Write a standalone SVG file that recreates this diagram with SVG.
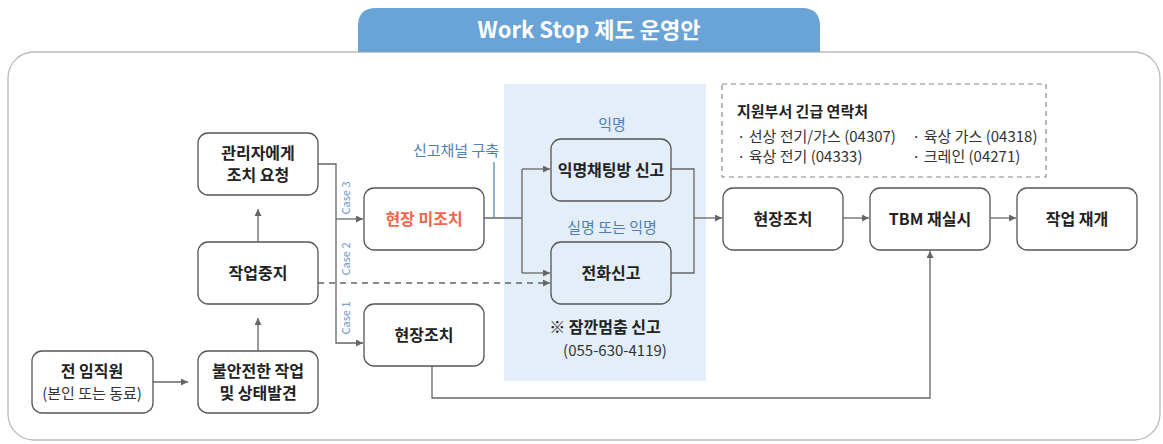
<svg xmlns="http://www.w3.org/2000/svg" width="1163" height="444" viewBox="0 0 1163 444">
<defs>
<marker id="ah" viewBox="0 0 10 10" refX="10" refY="5" markerWidth="7" markerHeight="7" orient="auto" markerUnits="userSpaceOnUse">
<path d="M0,0 L10,5 L0,10 z" fill="#666"/>
</marker>
</defs>
<style>
.node{fill:#fff;stroke:#555;stroke-width:1.3}
.t{font-family:"Noto Sans CJK KR","Noto Sans",sans-serif;font-size:16px;font-weight:bold;fill:#222;text-anchor:middle}
.r{font-family:"Noto Sans CJK KR","Noto Sans",sans-serif;font-size:15px;fill:#333}
.b{font-family:"Noto Sans CJK KR","Noto Sans",sans-serif;font-size:15px;fill:#4f7fb5;text-anchor:middle}
.case{font-family:"Noto Sans CJK KR","Noto Sans",sans-serif;font-size:11px;fill:#6a94c4;text-anchor:middle}
.c{fill:none;stroke:#666;stroke-width:1.3}
</style>
<rect x="8" y="52" width="1152" height="388" rx="26" fill="#fff" stroke="#bbb" stroke-width="1.3"/>
<path d="M358,52 V26 Q358,8 376,8 H802 Q820,8 820,26 V52 Z" fill="#6aa3d6"/>
<text x="589" y="38" font-family="'Noto Sans CJK KR','Noto Sans',sans-serif" font-size="22" font-weight="bold" fill="#fff" text-anchor="middle">Work Stop 제도 운영안</text>
<rect x="504" y="84" width="202" height="297" fill="#e3eef8"/>
<rect x="722" y="84" width="324" height="93" fill="none" stroke="#888" stroke-width="1.2" stroke-dasharray="5,4"/>
<text class="r" x="737" y="117" font-weight="bold" font-size="16" style="fill:#222">지원부서 긴급 연락처</text>
<text class="r" x="737" y="142">· 선상 전기/가스 (04307)</text>
<text class="r" x="912" y="142">· 육상 가스 (04318)</text>
<text class="r" x="737" y="162">· 육상 전기 (04333)</text>
<text class="r" x="912" y="162">· 크레인 (04271)</text>
<g id="connectors">
<path class="c" d="M153,382 H188" marker-end="url(#ah)"/>
<path class="c" d="M258,351 V318" marker-end="url(#ah)"/>
<path class="c" d="M258,242 V209" marker-end="url(#ah)"/>
<path class="c" d="M318,164 H336 V343 H363" marker-end="url(#ah)"/>
<path class="c" d="M336,219 H363" marker-end="url(#ah)"/>
<path class="c" d="M318,283 H550" stroke-dasharray="6,5" marker-end="url(#ah)"/>
<path class="c" d="M484,218 H522"/>
<path class="c" d="M494,162 V218" style="stroke:#5a86b8"/>
<path class="c" d="M522,169 V273"/>
<path class="c" d="M522,169 H550" marker-end="url(#ah)"/>
<path class="c" d="M522,273 H550" marker-end="url(#ah)"/>
<path class="c" d="M671,169 H694 V273 H671"/>
<path class="c" d="M694,218 H722" marker-end="url(#ah)"/>
<path class="c" d="M843,218 H869" marker-end="url(#ah)"/>
<path class="c" d="M990,218 H1016" marker-end="url(#ah)"/>
<path class="c" d="M432,366 V398 H930 V251" marker-end="url(#ah)"/>
</g>
<text class="case" transform="translate(350,198) rotate(-90)">Case 3</text>
<text class="case" transform="translate(350,259) rotate(-90)">Case 2</text>
<text class="case" transform="translate(350,318) rotate(-90)">Case 1</text>
<text class="b" x="456" y="156">신고채널 구축</text>
<text class="b" x="612" y="130">익명</text>
<text class="b" x="612" y="233">실명 또는 익명</text>
<text class="t" x="605" y="333">※ 잠깐멈춤 신고</text>
<text class="r" x="615" y="356" text-anchor="middle" font-size="14">(055-630-4119)</text>
<g id="n-employee">
<rect class="node" x="32" y="351" width="121" height="62" rx="10"/>
<text class="t" x="92" y="377">전 임직원</text>
<text class="r" x="92" y="399" text-anchor="middle">(본인 또는 동료)</text>
</g>
<g id="n-discover">
<rect class="node" x="198" y="351" width="120" height="62" rx="10"/>
<text class="t" x="258" y="377">불안전한 작업</text>
<text class="t" x="258" y="399">및 상태발견</text>
</g>
<g id="n-stop">
<rect class="node" x="198" y="242" width="120" height="62" rx="10"/>
<text class="t" x="258" y="279">작업중지</text>
</g>
<g id="n-request">
<rect class="node" x="198" y="133" width="120" height="62" rx="10"/>
<text class="t" x="258" y="159">관리자에게</text>
<text class="t" x="258" y="181">조치 요청</text>
</g>
<g id="n-noaction">
<rect class="node" x="364" y="188" width="120" height="62" rx="10"/>
<text class="t" x="424" y="225" style="fill:#f0664a">현장 미조치</text>
</g>
<g id="n-action1">
<rect class="node" x="364" y="304" width="120" height="62" rx="10"/>
<text class="t" x="424" y="341">현장조치</text>
</g>
<g id="n-chat">
<rect class="node" x="551" y="139" width="120" height="62" rx="10" style="fill:#e3eef8"/>
<text class="t" x="611" y="176">익명채팅방 신고</text>
</g>
<g id="n-phone">
<rect class="node" x="551" y="242" width="120" height="62" rx="10" style="fill:#e3eef8"/>
<text class="t" x="611" y="279">전화신고</text>
</g>
<g id="n-action2">
<rect class="node" x="723" y="188" width="120" height="62" rx="10"/>
<text class="t" x="783" y="225">현장조치</text>
</g>
<g id="n-tbm">
<rect class="node" x="870" y="188" width="120" height="62" rx="10"/>
<text class="t" x="930" y="225">TBM 재실시</text>
</g>
<g id="n-resume">
<rect class="node" x="1017" y="188" width="120" height="62" rx="10"/>
<text class="t" x="1077" y="225">작업 재개</text>
</g>
</svg>
